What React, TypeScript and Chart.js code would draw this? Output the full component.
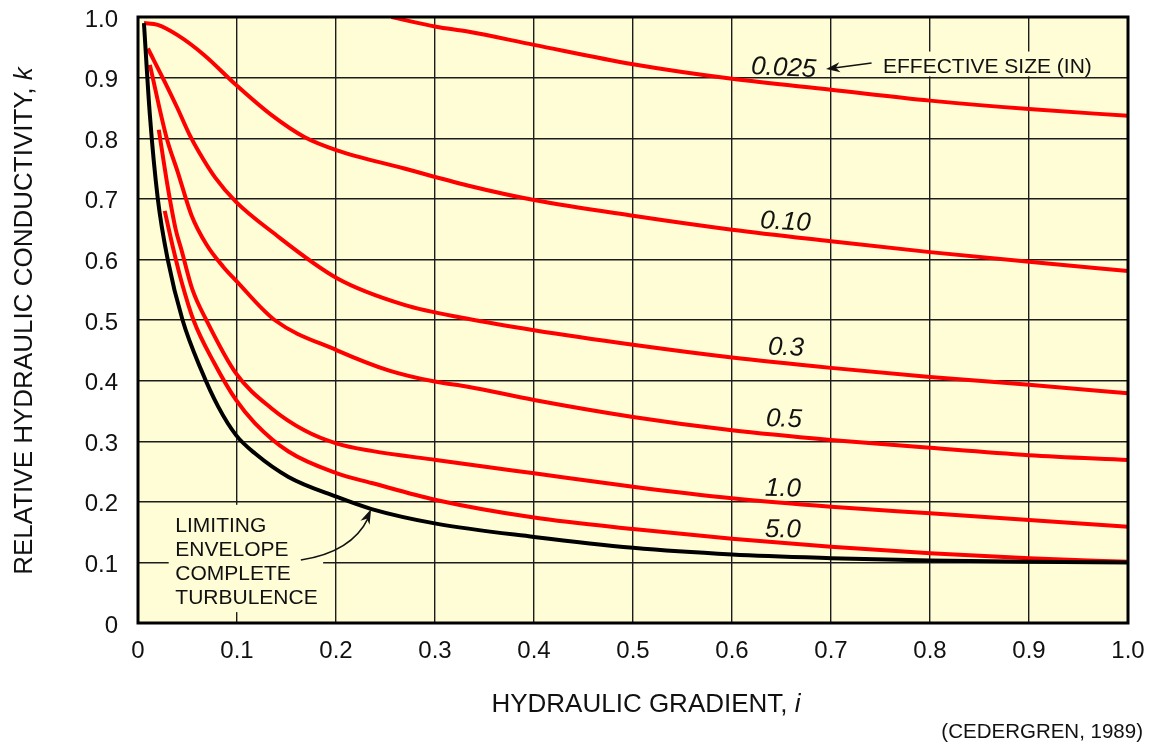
import React, { useEffect, useRef } from 'react';
import { Chart, registerables } from 'chart.js';

Chart.register(...registerables);

const FONT = '"Liberation Sans", Arial, Helvetica, sans-serif';
const RED = '#ff0000';
const YELLOW = '#fffdd6';

const xTickLabels = ['0', '0.1', '0.2', '0.3', '0.4', '0.5', '0.6', '0.7', '0.8', '0.9', '1.0'];
const yTickLabels = ['0', '0.1', '0.2', '0.3', '0.4', '0.5', '0.6', '0.7', '0.8', '0.9', '1.0'];

// Limiting envelope (complete turbulence)
const envX = [0.006, 0.012, 0.020, 0.030, 0.045, 0.064, 0.081, 0.099, 0.118, 0.152, 0.201, 0.236, 0.301, 0.4, 0.5, 0.6, 0.7, 0.8, 0.9, 1.0];
const envY = [0.99, 0.838, 0.70, 0.60, 0.50, 0.417, 0.357, 0.31, 0.28, 0.241, 0.208, 0.188, 0.164, 0.142, 0.124, 0.113, 0.107, 0.103, 0.101, 0.1];

// Effective size 5.0 in
const s50X = [0.027, 0.036, 0.044, 0.056, 0.077, 0.099, 0.118, 0.152, 0.201, 0.236, 0.301, 0.4, 0.5, 0.6, 0.7, 0.8, 0.9, 1.0];
const s50Y = [0.68, 0.615, 0.563, 0.50, 0.429, 0.368, 0.33, 0.283, 0.247, 0.231, 0.203, 0.174, 0.155, 0.139, 0.126, 0.115, 0.107, 0.101];

// Effective size 1.0 in
const s10X = [0.021, 0.030, 0.038, 0.044, 0.055, 0.069, 0.099, 0.135, 0.168, 0.201, 0.236, 0.301, 0.4, 0.5, 0.6, 0.7, 0.8, 0.9, 1.0];
const s10Y = [0.814, 0.72, 0.65, 0.615, 0.55, 0.50, 0.412, 0.354, 0.318, 0.296, 0.284, 0.269, 0.247, 0.225, 0.206, 0.192, 0.181, 0.170, 0.159];

// Effective size 0.5 in
const s05X = [0.012, 0.029, 0.040, 0.054, 0.069, 0.086, 0.099, 0.138, 0.201, 0.253, 0.301, 0.333, 0.4, 0.5, 0.6, 0.7, 0.8, 0.9, 1.0];
const s05Y = [0.921, 0.80, 0.745, 0.673, 0.625, 0.588, 0.565, 0.50, 0.45, 0.417, 0.398, 0.39, 0.368, 0.34, 0.318, 0.302, 0.289, 0.277, 0.269];

// Effective size 0.3 in
const s03X = [0.010, 0.027, 0.040, 0.052, 0.062, 0.078, 0.099, 0.135, 0.201, 0.269, 0.333, 0.4, 0.5, 0.6, 0.7, 0.8, 0.9, 1.0];
const s03Y = [0.948, 0.893, 0.849, 0.806, 0.776, 0.735, 0.695, 0.646, 0.569, 0.525, 0.502, 0.483, 0.459, 0.438, 0.421, 0.406, 0.393, 0.379];

// Effective size 0.10 in
const s01X = [0.006, 0.020, 0.040, 0.067, 0.099, 0.135, 0.168, 0.201, 0.269, 0.333, 0.4, 0.5, 0.6, 0.7, 0.8, 0.9, 1.0];
const s01Y = [0.99, 0.987, 0.97, 0.937, 0.888, 0.838, 0.802, 0.78, 0.75, 0.722, 0.698, 0.672, 0.649, 0.63, 0.612, 0.596, 0.581];

// Effective size 0.025 in
const s0025X = [0.256, 0.301, 0.333, 0.4, 0.5, 0.6, 0.7, 0.8, 0.9, 1.0];
const s0025Y = [1.0, 0.984, 0.976, 0.954, 0.922, 0.898, 0.88, 0.862, 0.848, 0.837];

// Curve labels: text, x, y (data units, left/baseline), rotation deg
const curveLabels: [string, number, number, number][] = [
  ['0.025', 0.619, 0.906, 3],
  ['0.10', 0.628, 0.652, 3.5],
  ['0.3', 0.636, 0.443, 2],
  ['0.5', 0.634, 0.325, 2],
  ['1.0', 0.633, 0.210, 1.5],
  ['5.0', 0.633, 0.142, 1],
];

const envelopeLines = ['LIMITING', 'ENVELOPE', 'COMPLETE', 'TURBULENCE'];

function mk(label: string, xs: number[], ys: number[], color: string) {
  return {
    label,
    data: xs.map((x, i) => ({ x, y: ys[i] })),
    borderColor: color,
    backgroundColor: color,
    borderWidth: 4,
    pointRadius: 0,
    showLine: true,
    fill: false,
    cubicInterpolationMode: 'monotone' as const,
    borderCapStyle: 'butt' as const,
  };
}

function arrowHead(ctx: CanvasRenderingContext2D, tx: number, ty: number, fx: number, fy: number, len: number, half: number) {
  const a = Math.atan2(ty - fy, tx - fx);
  ctx.beginPath();
  ctx.moveTo(tx, ty);
  ctx.lineTo(tx - len * Math.cos(a) + half * Math.sin(a), ty - len * Math.sin(a) - half * Math.cos(a));
  ctx.lineTo(tx - len * 0.7 * Math.cos(a), ty - len * 0.7 * Math.sin(a));
  ctx.lineTo(tx - len * Math.cos(a) - half * Math.sin(a), ty - len * Math.sin(a) + half * Math.cos(a));
  ctx.closePath();
  ctx.fill();
}

const zeroPad = (s: any) => {
  s.paddingTop = 0;
  s.paddingBottom = 0;
  s.paddingLeft = 0;
  s.paddingRight = 0;
};

const decorPlugin = {
  id: 'decor',
  beforeDraw(chart: any) {
    const { ctx, chartArea: a } = chart;
    ctx.save();
    ctx.fillStyle = '#ffffff';
    ctx.fillRect(0, 0, chart.width, chart.height);
    ctx.fillStyle = YELLOW;
    ctx.fillRect(a.left, a.top, a.right - a.left, a.bottom - a.top);
    ctx.restore();
  },
  afterDatasetsDraw(chart: any) {
    const { ctx, chartArea: a } = chart;
    const xs = chart.scales.x;
    const ys = chart.scales.y;
    const px = (v: number) => xs.getPixelForValue(v);
    const py = (v: number) => ys.getPixelForValue(v);
    ctx.save();

    // curve labels
    ctx.fillStyle = '#111';
    ctx.font = `italic 26px ${FONT}`;
    ctx.textAlign = 'left';
    ctx.textBaseline = 'alphabetic';
    for (const [t, x, y, r] of curveLabels) {
      ctx.save();
      ctx.translate(px(x), py(y));
      ctx.rotate((r * Math.PI) / 180);
      ctx.fillText(t, 0, 0);
      ctx.restore();
    }

    // effective size note with background
    const esL = px(0.7525);
    const esB = py(0.907);
    ctx.fillStyle = YELLOW;
    ctx.fillRect(esL - 5, py(0.943), 219, py(0.902) - py(0.943));
    ctx.fillStyle = '#111';
    ctx.font = `21px ${FONT}`;
    ctx.fillText('EFFECTIVE SIZE (IN)', esL, esB);
    // arrow pointing at 0.025 label
    const a1x = px(0.741), a1y = py(0.924), a2x = px(0.695), a2y = py(0.914);
    ctx.strokeStyle = '#111';
    ctx.lineWidth = 1.5;
    ctx.beginPath();
    ctx.moveTo(a1x, a1y);
    ctx.lineTo(a2x + 8, a2y - 1);
    ctx.stroke();
    arrowHead(ctx, a2x, a2y, a1x, a1y, 14, 5);

    // limiting envelope label with background
    const bx0 = px(0.031), bx1 = px(0.187), by0 = py(0.195), by1 = py(0.018);
    ctx.fillStyle = YELLOW;
    ctx.fillRect(bx0, by0, bx1 - bx0, by1 - by0);
    ctx.fillStyle = '#111';
    ctx.font = `21px ${FONT}`;
    const tl = px(0.0377);
    const b0 = py(0.15);
    envelopeLines.forEach((t, i) => ctx.fillText(t, tl, b0 + i * 23.8));
    // curved arrow
    const s = { x: px(0.1645), y: py(0.104) };
    const c = { x: px(0.216), y: py(0.117) };
    const e = { x: px(0.2355), y: py(0.188) };
    ctx.strokeStyle = '#111';
    ctx.lineWidth = 1.5;
    ctx.beginPath();
    ctx.moveTo(s.x, s.y);
    ctx.quadraticCurveTo(c.x, c.y, e.x - 3, e.y + 9);
    ctx.stroke();
    arrowHead(ctx, e.x, e.y, c.x, c.y, 15, 5);

    // plot border
    ctx.strokeStyle = '#000';
    ctx.lineWidth = 3;
    ctx.strokeRect(a.left, a.top, a.right - a.left, a.bottom - a.top);

    // axis titles
    ctx.fillStyle = '#111';
    const xt1 = 'HYDRAULIC GRADIENT, ';
    const xt2 = 'i';
    ctx.font = `26px ${FONT}`;
    const w1 = ctx.measureText(xt1).width;
    ctx.font = `italic 26px ${FONT}`;
    const w2 = ctx.measureText(xt2).width;
    const xcx = 646;
    const xb = 712;
    ctx.font = `26px ${FONT}`;
    ctx.fillText(xt1, xcx - (w1 + w2) / 2, xb);
    ctx.font = `italic 26px ${FONT}`;
    ctx.fillText(xt2, xcx - (w1 + w2) / 2 + w1, xb);

    const yt1 = 'RELATIVE HYDRAULIC CONDUCTIVITY, ';
    const yt2 = 'k';
    ctx.save();
    ctx.translate(32, (a.top + a.bottom) / 2 + 1);
    ctx.rotate(-Math.PI / 2);
    ctx.font = `26px ${FONT}`;
    const v1 = ctx.measureText(yt1).width;
    ctx.font = `italic 26px ${FONT}`;
    const v2 = ctx.measureText(yt2).width;
    ctx.font = `26px ${FONT}`;
    ctx.fillText(yt1, -(v1 + v2) / 2, 0);
    ctx.font = `italic 26px ${FONT}`;
    ctx.fillText(yt2, -(v1 + v2) / 2 + v1, 0);
    ctx.restore();

    // source credit
    ctx.font = `20.5px ${FONT}`;
    ctx.textAlign = 'right';
    ctx.fillText('(CEDERGREN, 1989)', 1143, 738);

    ctx.restore();
  },
};

export default function App() {
  const ref = useRef<HTMLCanvasElement>(null);
  useEffect(() => {
    if (!ref.current) return;
    const chart = new Chart(ref.current, {
      type: 'scatter',
      data: {
        datasets: [
          mk('Limiting envelope', envX, envY, '#000000'),
          mk('5.0', s50X, s50Y, RED),
          mk('1.0', s10X, s10Y, RED),
          mk('0.5', s05X, s05Y, RED),
          mk('0.3', s03X, s03Y, RED),
          mk('0.10', s01X, s01Y, RED),
          mk('0.025', s0025X, s0025Y, RED),
        ] as any,
      },
      options: {
        responsive: false,
        devicePixelRatio: 1,
        animation: false,
        layout: { padding: { top: 17, right: 22, bottom: 0, left: 0 } },
        plugins: {
          legend: { display: false },
          tooltip: { enabled: false },
        },
        scales: {
          x: {
            type: 'linear',
            min: 0,
            max: 1,
            border: { display: false },
            grid: { color: '#1c1c1c', lineWidth: 1.4, drawTicks: false },
            ticks: {
              stepSize: 0.1,
              padding: 14,
              color: '#111',
              font: { family: FONT, size: 24 },
              maxRotation: 0,
              callback: (_v: any, i: number) => xTickLabels[i] ?? '',
            },
            afterFit: (s: any) => { s.height = 122; zeroPad(s); },
          },
          y: {
            type: 'linear',
            min: 0,
            max: 1,
            border: { display: false },
            grid: { color: '#1c1c1c', lineWidth: 1.4, drawTicks: false },
            ticks: {
              stepSize: 0.1,
              padding: 20,
              labelOffset: 3,
              color: '#111',
              font: { family: FONT, size: 24 },
              callback: (_v: any, i: number) => yTickLabels[i] ?? '',
            },
            afterFit: (s: any) => { s.width = 138; zeroPad(s); },
          },
        },
      } as any,
      plugins: [decorPlugin],
    });
    return () => chart.destroy();
  }, []);
  return (
    <div style={{ position: 'fixed', left: 0, top: 0, width: 1150, height: 745, background: '#fff' }}>
      <canvas ref={ref} width={1150} height={745} style={{ display: 'block', width: 1150, height: 745 }} />
    </div>
  );
}
